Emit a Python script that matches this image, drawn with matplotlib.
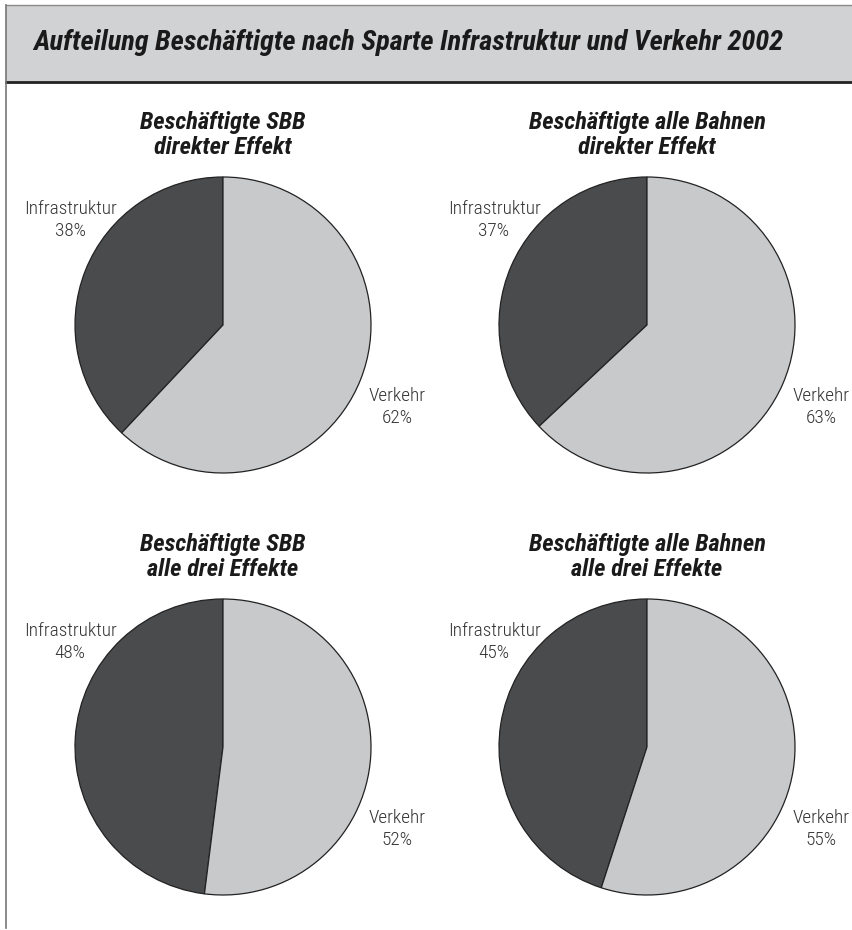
import matplotlib.pyplot as plt
from matplotlib import font_manager
from matplotlib.patches import Rectangle
from matplotlib.lines import Line2D

# Data
main_title = "Aufteilung Beschäftigte nach Sparte Infrastruktur und Verkehr 2002"
sparten = ["Infrastruktur", "Verkehr"]
titles = ["Beschäftigte SBB\ndirekter Effekt",
          "Beschäftigte alle Bahnen\ndirekter Effekt",
          "Beschäftigte SBB\nalle drei Effekte",
          "Beschäftigte alle Bahnen\nalle drei Effekte"]
sbb_direkt = [38, 62]
bahnen_direkt = [37, 63]
sbb_alle = [48, 52]
bahnen_alle = [45, 55]
shares = [sbb_direkt, bahnen_direkt, sbb_alle, bahnen_alle]

colors = ["#4a4b4d", "#c8c9cb"]
W, H = 852, 930

# pick a narrow font if one is installed
installed = {f.name for f in font_manager.fontManager.ttflist}
font = "Liberation Sans"
for cand in ["Liberation Sans Narrow", "Roboto Condensed", "Open Sans Condensed"]:
    if cand in installed:
        font = cand
        break
fam = [font, "DejaVu Sans"]

fig = plt.figure(figsize=(W / 100, H / 100), dpi=100)
ax = fig.add_axes([0, 0, 1, 1])
ax.set_xlim(0, W)
ax.set_ylim(0, H)
ax.set_aspect("equal")
ax.axis("off")
renderer = fig.canvas.get_renderer()


def fit(txt, width_px):
    # scale font so the text has the width seen in the reference
    w = txt.get_window_extent(renderer).width
    txt.set_fontsize(txt.get_fontsize() * width_px / w)


# header band
ax.add_patch(Rectangle((6, H - 82), W, 77, facecolor="#d1d2d4", edgecolor="none"))
ax.add_line(Line2D([6, W], [H - 5, H - 5], color="#8a8a8a", lw=1))
ax.add_line(Line2D([6, W], [H - 82, H - 82], color="#222222", lw=2))
ax.add_line(Line2D([6, 6], [H - 5, H - 928], color="#777777", lw=1.2))
t = ax.text(33, H - 43, main_title, ha="left", va="center", fontsize=17,
            fontweight="bold", fontstyle="italic", family=fam, color="#1a1a1a")
fit(t, 750)

# pie layout (pixel positions)
centers = [(223, 325), (647, 325), (223, 747), (647, 747)]
radius = 148

probe = ax.text(0, 0, "Beschäftigte SBB", fontsize=17, fontweight="bold",
                fontstyle="italic", family=fam)
fit(probe, 165)
title_size = probe.get_fontsize()
probe.remove()
probe = ax.text(0, 0, "Infrastruktur", fontsize=14, family=fam, fontweight="light")
fit(probe, 93)
label_size = probe.get_fontsize()
probe.remove()

for (cx, cy), vals, title in zip(centers, shares, titles):
    ax.pie(vals, colors=colors, startangle=90, counterclock=True,
           center=(cx, H - cy), radius=radius,
           wedgeprops=dict(edgecolor="#222222", linewidth=0.9))
    ax.text(cx, H - (cy - 190), title, ha="center", va="center", fontsize=title_size,
            fontweight="bold", fontstyle="italic", family=fam,
            color="#1a1a1a", linespacing=1.1)
    ax.text(cx - 153, H - (cy - 105), f"{sparten[0]}\n{vals[0]}%", ha="center",
            va="center", fontsize=label_size, family=fam, fontweight="light",
            color="#333333", linespacing=1.3)
    ax.text(cx + 174, H - (cy + 82), f"{sparten[1]}\n{vals[1]}%", ha="center",
            va="center", fontsize=label_size, family=fam, fontweight="light",
            color="#333333", linespacing=1.3)

ax.set_xlim(0, W)
ax.set_ylim(0, H)

fig.savefig("out.png", dpi=100)
